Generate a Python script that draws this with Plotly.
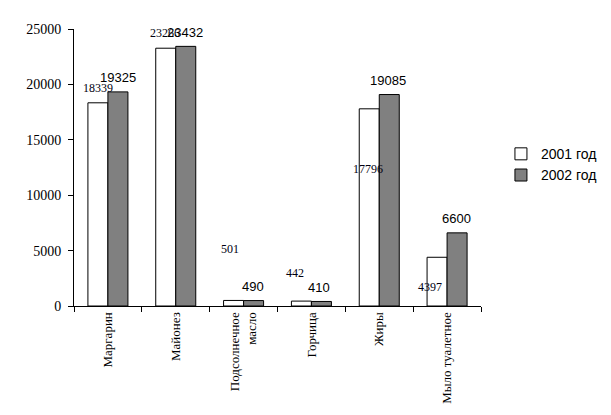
import plotly.graph_objects as go

categories = ["Маргарин", "Майонез", "Подсолнечное<br>масло", "Горчица", "Жиры", "Мыло туалетное"]
series_2001 = [18339, 23266, 501, 442, 17796, 4397]
series_2002 = [19325, 23432, 490, 410, 19085, 6600]
names = ["2001 год", "2002 год"]
y_ticks = [0, 5000, 10000, 15000, 20000, 25000]
y_ticktext = [str(v) for v in y_ticks]

# label offsets (pixels) relative to each bar's top centre
off_2001 = [(0, 15), (-0.5, 15), (-4, 51), (-6, 28), (-1, -60), (-7, -30)]
off_2002 = [(0, 14), (-1, 14), (-1, 14), (-2, 14), (-1, 14), (-1, 14)]

fig = go.Figure()
fig.add_trace(go.Bar(x=categories, y=series_2001, name=names[0],
                     marker=dict(color="white", line=dict(color="black", width=1))))
fig.add_trace(go.Bar(x=categories, y=series_2002, name=names[1],
                     marker=dict(color="#808080", line=dict(color="black", width=1))))

annotations = []
for c, v, (dx, dy) in zip(categories, series_2001, off_2001):
    annotations.append(dict(x=c, y=v, xref="x", yref="y", text=str(v), showarrow=False,
                            xshift=-10 + dx, yshift=dy, yanchor="middle",
                            font=dict(family="Liberation Serif", size=12, color="#000010")))
for c, v, (dx, dy) in zip(categories, series_2002, off_2002):
    annotations.append(dict(x=c, y=v, xref="x", yref="y", text=str(v), showarrow=False,
                            xshift=10 + dx, yshift=dy, yanchor="middle",
                            font=dict(family="Liberation Sans", size=13, color="black")))

# page body has an 8px margin, so the plot margins are reduced by 8px on left/top
fig.update_layout(
    width=611, height=415,
    margin=dict(l=66, r=138, t=21, b=117),
    paper_bgcolor="white", plot_bgcolor="white",
    barmode="group", bargap=0.41, bargroupgap=0,
    showlegend=True,
    legend=dict(x=1.049, y=0.51, xanchor="left", yanchor="middle",
                font=dict(family="Liberation Sans", size=14, color="black"),
                itemwidth=30, bgcolor="rgba(0,0,0,0)"),
    annotations=annotations,
    xaxis=dict(showline=True, linecolor="black", linewidth=1, ticks="outside",
               tickson="boundaries", ticklen=5, tickcolor="black", tickangle=-90,
               tickfont=dict(family="Liberation Serif", size=13, color="black"),
               showgrid=False, zeroline=False, automargin=False),
    yaxis=dict(range=[0, 25000], tickvals=y_ticks, ticktext=y_ticktext, showline=True,
               linecolor="black", linewidth=1, ticks="outside", ticklen=5, tickcolor="black",
               ticklabelstandoff=4,
               tickfont=dict(family="Liberation Serif", size=14, color="black"),
               showgrid=False, zeroline=False, automargin=False),
)

fig.write_html("out.html")
